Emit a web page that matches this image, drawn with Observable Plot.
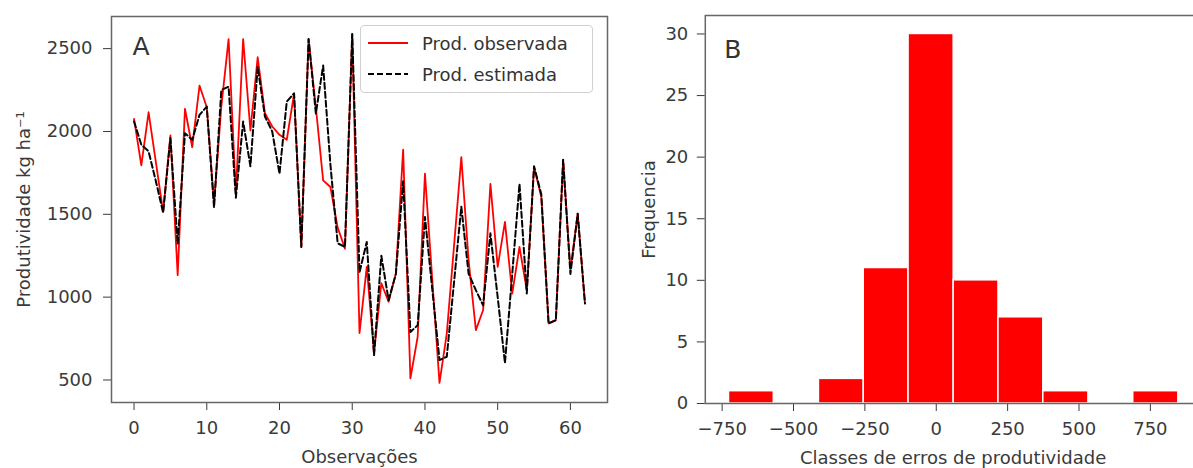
<!DOCTYPE html>
<html><head><meta charset="utf-8">
<script src="https://cdn.jsdelivr.net/npm/d3@7"></script>
<script src="https://cdn.jsdelivr.net/npm/@observablehq/plot@0.6"></script>
<style>
body{margin:0;background:#fff;}
#wrap{position:relative;width:1193px;height:468px;font-family:"DejaVu Sans",sans-serif;overflow:hidden;background:#fff;}
.panel{position:absolute;top:0;height:468px;}
.panel svg{max-width:none !important;}
.legend{position:absolute;left:360px;top:25px;width:233px;height:68px;border:1px solid #d0d0d0;border-radius:4px;background:rgba(255,255,255,0.85);box-sizing:border-box;font-size:18px;color:#333;}
.legend .row{position:absolute;left:0;height:24px;display:flex;align-items:center;}
.legend svg{margin-left:7px;margin-right:14px;}
</style></head>
<body>
<div id="wrap"></div>
<script>
// ---- Panel A: productivity per observation ----
const prodObservada = [2076,1795,2116,1815,1514,1976,1133,2137,1905,2277,2146,1566,2150,2558,1626,2558,2006,2448,2110,2030,1980,1950,2227,1303,2558,2146,1705,1665,1420,1293,2588,783,1183,663,1084,972,1142,1890,510,761,1745,1110,482,780,1310,1845,1223,801,922,1684,1183,1454,1022,1303,1042,1785,1604,841,861,1825,1163,1504,962];
const prodEstimada  = [2060,1920,1880,1700,1510,1960,1320,1990,1950,2100,2150,1540,2250,2270,1600,2060,1790,2390,2090,2000,1745,2180,2230,1303,2558,2108,2398,1800,1325,1303,2588,1150,1333,650,1250,982,1140,1700,790,830,1484,1050,620,640,1090,1546,1142,1042,950,1385,1000,602,1140,1684,1022,1790,1620,841,861,1830,1140,1504,962];
const xTicksA = [0,10,20,30,40,50,60];
const yTicksA = [500,1000,1500,2000,2500];
const seriesNames = ["Prod. observada","Prod. estimada"];

// ---- Panel B: histogram of errors ----
const binEdges = [-726,-569,-411,-254,-97,61,218,375,533,690,848];
const frequencia = [1,0,2,11,30,10,7,1,0,1];
const xTicksB = [-750,-500,-250,0,250,500,750];
const yTicksB = [0,5,10,15,20,25,30];

const rowsA = prodObservada.map((v,i)=>({obs:i, observada:v, estimada:prodEstimada[i]}));
const bins = frequencia.map((n,i)=>({x1:binEdges[i], x2:binEdges[i+1], n})).filter(d=>d.n>0);

const baseStyle = {fontFamily:'"DejaVu Sans", sans-serif', fontSize:"18px", color:"#3a3a3a", background:"transparent", overflow:"visible", maxWidth:"none"};
const plain = d => String(d).replace("-", "\u2212");

const plotA = Plot.plot({
  width:640, height:468,
  marginLeft:111, marginRight:33, marginTop:16, marginBottom:66,
  style: baseStyle,
  x:{domain:[-3.1,65.1], ticks:xTicksA, tickFormat:plain, tickSize:8, tickPadding:11, label:"Observações", labelAnchor:"center", labelOffset:60, labelArrow:"none"},
  y:{domain:[364,2694], ticks:yTicksA, tickFormat:plain, tickSize:8, tickPadding:11, label:"Produtividade kg ha\u207B\u00B9", labelAnchor:"center", labelOffset:94, labelArrow:"none"},
  marks:[
    Plot.lineY(rowsA, {x:"obs", y:"observada", stroke:"#ff0000", strokeWidth:1.8}),
    Plot.lineY(rowsA, {x:"obs", y:"estimada", stroke:"#000", strokeWidth:2, strokeDasharray:"6,3"}),
    Plot.frame({stroke:"#666", strokeWidth:1.5}),
    Plot.text(["A"], {frameAnchor:"top-left", dx:21, dy:21, fontSize:25, fill:"#333", lineAnchor:"top"})
  ]
});

const plotB = Plot.plot({
  width:563, height:468,
  marginLeft:64.8, marginRight:2.6, marginTop:15, marginBottom:65,
  style: baseStyle,
  x:{domain:[-809,927], ticks:xTicksB, tickFormat:plain, tickSize:8, tickPadding:11, label:"Classes de erros de produtividade", labelAnchor:"center", labelOffset:60, labelArrow:"none"},
  y:{domain:[0,31.5], ticks:yTicksB, tickFormat:plain, tickSize:8, tickPadding:9, label:"Frequencia", labelAnchor:"center", labelOffset:63, labelArrow:"none"},
  marks:[
    Plot.rectY(bins, {x1:"x1", x2:"x2", y:"n", fill:"#ff0000", stroke:"white", strokeWidth:1.5}),
    Plot.frame({stroke:"#666", strokeWidth:1.5}),
    Plot.text(["B"], {frameAnchor:"top-left", dx:19, dy:25, fontSize:25, fill:"#333", lineAnchor:"top"})
  ]
});

const wrap = document.getElementById("wrap");
const pa = document.createElement("div"); pa.className="panel"; pa.style.left="0px"; pa.style.width="640px"; pa.appendChild(plotA); wrap.appendChild(pa);
const pb = document.createElement("div"); pb.className="panel"; pb.style.left="640px"; pb.style.width="563px"; pb.appendChild(plotB); wrap.appendChild(pb);

// legend inside panel A
const lg = document.createElement("div"); lg.className="legend";
const styles = [{stroke:"#ff0000", dash:""},{stroke:"#000", dash:"6,3"}];
seriesNames.forEach((name,i)=>{
  const row = document.createElement("div"); row.className="row"; row.style.top = (5 + i*31) + "px";
  row.innerHTML = `<svg width="40" height="10"><line x1="0" y1="5" x2="40" y2="5" stroke="${styles[i].stroke}" stroke-width="2" ${styles[i].dash?`stroke-dasharray="${styles[i].dash}"`:""}/></svg><span>${name}</span>`;
  lg.appendChild(row);
});
wrap.appendChild(lg);
</script>
</body></html>
